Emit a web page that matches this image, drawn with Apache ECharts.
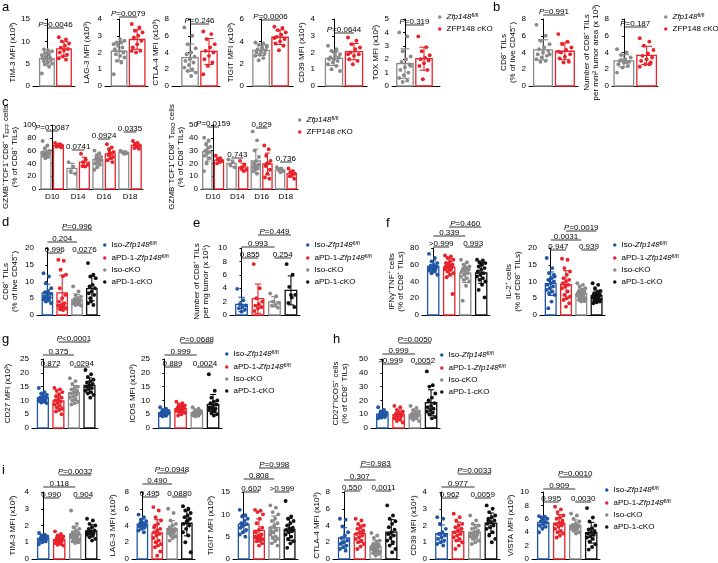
<!DOCTYPE html>
<html>
<head>
<meta charset="utf-8">
<script src="https://cdn.jsdelivr.net/npm/echarts@6/dist/echarts.min.js"></script>
<style>
  html, body { margin: 0; padding: 0; background: #fff; }
  #fig { width: 718px; height: 563px; }
</style>
</head>
<body>
<div id="fig"></div>
<script>
// 组名
const grp2 = ['Zfp148fl/fl', 'ZFP148 cKO'];
const grp4 = ['Iso-Zfp148fl/fl', 'aPD-1-Zfp148fl/fl', 'Iso-cKO', 'aPD-1-cKO'];
const days = ['D10', 'D14', 'D16', 'D18'];

// ---- a ----
const aTim3 = [
  [2.8, 4.3, 4.8, 5.0, 5.3, 5.5, 5.8, 6.0, 6.2, 6.4, 6.6, 6.9, 7.1, 7.4, 7.8, 8.0, 8.2],
  [10.9, 10.4, 10.0, 9.5, 9.0, 8.6, 8.3, 8.0, 7.5, 7.0, 6.6, 6.2, 5.9]
];
const aLag3 = [
  [0.7, 1.4, 1.5, 1.7, 1.8, 1.9, 2.0, 2.1, 2.2, 2.3, 2.4, 2.5, 2.6, 2.6, 2.7, 2.8],
  [3.7, 3.5, 3.3, 3.2, 3.0, 2.9, 2.7, 2.5, 2.3, 2.1, 2.0, 2.1]
];
const aCtla4 = [
  [7.0, 6.0, 5.0, 4.5, 4.0, 3.8, 3.5, 3.2, 3.0, 2.8, 2.5, 2.2, 2.0, 1.8, 1.6, 1.2],
  [6.5, 6.2, 5.6, 5.0, 4.6, 4.2, 4.0, 3.6, 3.2, 2.8, 2.4, 1.4]
];
const aTigit = [
  [3.9, 3.8, 3.7, 3.5, 3.4, 3.3, 3.2, 3.1, 3.0, 2.9, 2.8, 2.7, 2.5, 2.3, 3.6, 3.4],
  [5.3, 5.2, 5.0, 4.8, 4.6, 4.4, 4.2, 4.0, 3.8, 3.6, 3.2, 4.3]
];
const aCd39 = [
  [2.4, 2.2, 2.1, 1.9, 1.8, 1.7, 1.7, 1.6, 1.6, 1.5, 1.4, 1.3, 1.2, 1.0, 0.9, 2.0],
  [2.9, 2.7, 2.5, 2.3, 2.2, 2.0, 1.9, 1.8, 1.6, 1.5, 1.3, 1.9]
];
const aTox = [
  [4.0, 3.7, 2.6, 2.2, 2.0, 1.8, 1.6, 1.4, 1.2, 1.0, 0.8, 0.6, 0.4, 0.3, 1.5],
  [3.7, 2.9, 2.6, 2.3, 2.1, 2.0, 1.9, 1.7, 1.5, 1.2, 0.5]
];
const pA = ['P=0.0046', 'P=0.0079', 'P=0.246', 'P=0.0006', 'P=0.0644', 'P=0.319'];

// ---- b ----
const bCd8 = [
  [7.3, 6.0, 5.4, 5.0, 4.6, 4.4, 4.2, 4.0, 3.8, 3.6, 3.4, 3.2, 3.0, 2.9, 3.8],
  [6.2, 5.3, 5.0, 4.6, 4.3, 4.0, 3.8, 3.5, 3.3, 2.9, 2.8, 4.1]
];
const bNum = [
  [4.4, 4.0, 3.7, 3.4, 3.2, 3.0, 2.9, 2.8, 2.6, 2.4, 2.2, 1.6, 2.8, 3.1],
  [5.7, 5.3, 4.8, 4.3, 3.9, 3.6, 3.4, 3.2, 3.0, 2.8, 2.6, 2.3, 2.6]
];
const pB = ['P=0.991', 'P=0.187'];

// ---- c ---- 每组按 D10, D14, D16, D18
const cEff = [
  [[75, 68, 63, 60, 58, 56, 55, 54, 52, 50, 48, 57], [42, 35, 28, 24],
   [60, 56, 52, 50, 48, 46, 44, 42, 40, 38, 34, 30, 55, 49], [60, 58, 57, 56, 55]],
  [[72, 70, 69, 68, 67, 66, 65, 68], [55, 46, 42, 38, 35, 36],
   [70, 65, 62, 58, 55, 53, 50, 48, 45, 42, 57], [75, 72, 70, 68, 66, 64, 63]]
];
const cPro = [
  [[40, 38, 35, 33, 32, 30, 29, 28, 26, 24, 20, 14], [23, 21, 19, 17],
   [45, 38, 30, 25, 22, 20, 19, 18, 17, 16, 15, 14, 12, 18, 19], [17, 16, 15, 14, 13]],
  [[26, 24, 23, 22, 21, 20, 22], [22, 19, 17, 15, 14, 16],
   [34, 31, 26, 22, 20, 18, 15, 12, 9, 8, 20], [16, 14, 13, 12, 11, 10, 8]]
];
const pCEff = ['P=0.0087', '0.0741', '0.0924', '0.0335'];
const pCPro = ['P=0.0159', '0.743', '0.929', '0.736'];

// ---- d / e / f ----
const dCd8 = [
  [12.5, 11.5, 9.5, 8.0, 7.2, 6.8, 6.3, 6.0, 5.6, 5.2, 5.0, 4.7, 4.4, 4.0, 3.5, 4.8],
  [16.5, 16.2, 13.5, 12.0, 11.6, 8.0, 6.0, 5.0, 4.0, 3.5, 3.0, 2.8, 2.5, 2.2, 2.0, 1.5, 1.8],
  [8.5, 7.0, 6.0, 5.5, 5.0, 4.8, 4.5, 4.2, 4.0, 3.8, 3.6, 3.4, 3.2, 3.0, 2.8, 4.4],
  [15.5, 12.0, 11.5, 11.0, 9.0, 8.5, 8.0, 7.0, 6.5, 6.0, 4.0, 3.5, 3.0, 5.0]
];
const eNum = [
  [3.9, 2.2, 1.6, 1.4, 1.2, 1.0, 0.8, 0.5],
  [7.6, 4.0, 2.5, 2.0, 1.6, 1.4, 1.2, 1.0, 0.6],
  [3.2, 2.8, 2.0, 1.8, 1.5, 1.4, 1.1],
  [7.6, 6.0, 4.2, 3.0, 2.6, 1.8, 1.2, 3.0]
];
const fIfn = [
  [73, 68, 64, 62, 60, 59, 58, 57, 56, 55, 54, 53, 52, 50, 48, 58],
  [71, 70, 68, 66, 64, 62, 60, 59, 58, 57, 56, 55, 54, 52, 50, 48, 45, 25, 60, 62],
  [66, 63, 60, 58, 56, 55, 54, 53, 52, 50, 48, 46, 44, 42, 40, 35, 17, 55, 57],
  [66, 65, 63, 62, 60, 58, 56, 54, 52, 50, 48, 46, 44, 42, 40, 36, 30, 21, 60]
];
const fIl2 = [
  [17, 14, 12.5, 11.5, 11, 10.5, 10, 9.5, 9, 8.5, 8, 7.5, 7, 6.5, 6, 4, 2, 12, 11],
  [16.8, 16.5, 14, 13, 12, 11, 10.5, 10, 9.5, 9, 8.5, 8, 7, 6, 5.5, 5, 4.5, 3.5, 2.5],
  [9.5, 9.0, 8.5, 8.0, 7.5, 7.2, 7.0, 6.8, 6.5, 6.2, 6.0, 5.8, 5.5, 5.2, 5.0, 4.8, 4.5, 4.2, 4.0, 6.6],
  [9.5, 9.0, 8.0, 7.2, 6.8, 6.5, 6.2, 6.0, 5.8, 5.6, 5.4, 5.2, 5.0, 4.8, 4.6, 4.4, 4.2, 4.0, 3.8, 3.5, 6.0]
];
const pD = ['0.996', '0.0276', '0.204', 'P=0.996'];
const pE = ['0.855', '0.254', '0.993', 'P=0.449'];
const pF1 = ['>0.999', '0.993', '0.339', 'P=0.460'];
const pF2 = ['0.947', '0.939', '0.0031', 'P=0.0019'];

// ---- g / h ----
const gCd27 = [
  [14.5, 13, 12.5, 12, 11.5, 11.2, 11, 10.8, 10.5, 10.2, 10, 9.8, 9.5, 9.2, 9, 11],
  [14.5, 14, 13.5, 13, 12, 11.5, 11, 10.5, 10, 9.5, 9, 8.5, 8, 7.5, 7, 6.5, 6, 5, 10],
  [18, 17, 16, 15, 14.5, 14, 13.5, 13, 12.5, 12, 11.5, 11, 10.5, 10, 9.5, 9, 8.5, 13],
  [21, 19.5, 18.5, 17.5, 17, 16.5, 16, 15.5, 15, 14.5, 14, 13.5, 13, 12.5, 12, 11, 15]
];
const gIcos = [
  [7.5, 7, 6.5, 6.2, 6, 5.8, 5.6, 5.4, 5.2, 5, 4.8, 4.6, 4.4, 4.2, 5.5],
  [9.5, 9, 8.5, 8.2, 8, 7.6, 7.4, 7.2, 7, 6.8, 6.5, 6.2, 6, 5.8, 5.5, 5, 4.5, 7],
  [7.5, 7, 6.5, 6.2, 6, 5.8, 5.6, 5.4, 5.2, 5, 4.8, 4.6, 4.4, 4.2, 5.5, 5.3, 5.7],
  [19.5, 13.5, 11, 10, 9.5, 9, 8.5, 8, 7.5, 7, 6.8, 6.5, 6, 5.5, 5, 4.5, 7.2]
];
const hDp = [
  [15, 13, 12, 11, 10.5, 10, 9.5, 9, 8.5, 8, 7.5, 7, 10],
  [16, 15, 13, 12, 11, 10.5, 10, 9.5, 9, 8.5, 8, 7, 6, 5, 4],
  [16, 14.5, 13, 12, 11, 10.5, 10, 9.5, 9, 8.5, 8, 7.5, 7, 6, 5, 10],
  [41, 31, 30, 25, 22, 20, 18, 16, 15, 14, 13, 12, 11, 10, 8, 7]
];
const pG1 = ['0.872', '0.0294', '0.375', 'P<0.0001'];
const pG2 = ['0.889', '0.0024', '0.999', 'P=0.0688'];
const pH = ['>0.999', '0.0052', '0.999', 'P=0.0050'];

// ---- i ----
const iTim3 = [
  [1.55, 1.45, 1.4, 1.35, 1.3, 1.25, 1.2, 1.15, 1.1, 1.05, 1.0, 0.9, 1.3],
  [1.65, 1.5, 1.4, 1.35, 1.3, 1.25, 1.2, 1.15, 1.1, 1.05, 1.0, 0.95, 0.9, 0.85, 0.8, 1.2, 1.1],
  [2.9, 2.1, 1.9, 1.8, 1.7, 1.6, 1.55, 1.5, 1.45, 1.4, 1.35, 1.3, 1.25, 1.2, 1.15, 1.1, 1.05, 1.0, 0.95, 1.4],
  [2.4, 2.3, 2.1, 2.0, 1.9, 1.8, 1.7, 1.65, 1.6, 1.55, 1.5, 1.45, 1.4, 1.3, 1.2, 1.1, 1.6]
];
const iLag3 = [
  [5.3, 5.0, 4.7, 4.5, 4.3, 4.2, 4.1, 4.0, 3.9, 3.8, 3.6, 3.4, 3.2, 4.4],
  [6.2, 5.8, 5.0, 4.6, 4.2, 4.0, 3.6, 3.4, 3.2, 3.0, 2.8, 2.5, 2.2, 2.0, 1.8, 1.6, 1.4, 0.9, 0.4, 3.8],
  [6.0, 5.5, 4.6, 4.2, 4.0, 3.8, 3.6, 3.5, 3.4, 3.3, 3.2, 3.1, 3.0, 2.9, 2.7, 2.5, 2.2, 3.5],
  [6.3, 6.0, 5.8, 5.5, 5.2, 5.0, 4.8, 4.5, 4.2, 4.0, 3.6, 3.2, 2.8, 2.0, 0.8, 4.6]
];
const iTigit = [
  [11, 9.8, 9.5, 9, 8.5, 8, 7.8, 7.5, 7, 6.5, 6, 5.5, 5, 7.4],
  [11, 10.8, 10.5, 10, 9, 8, 7, 6.5, 6, 5.5, 5.2, 5, 4.8, 4.6, 4.4, 4.2, 4, 3.5, 3, 4.8],
  [12, 11.5, 10.5, 10, 9, 8.5, 8, 7.5, 7, 6.5, 6, 5.5, 5, 4.8, 4.5, 4, 3.5, 3, 7.2, 6.2],
  [13, 9.5, 9, 8.5, 8, 7.5, 7, 6.8, 6.5, 6.2, 6, 5.5, 5, 4.5, 4, 3.5, 2.5, 6.5]
];
const iCtla4 = [
  [4.8, 4.7, 3.9, 3.2, 2.8, 2.5, 2.2, 2.0, 1.8, 1.6, 1.4, 1.2, 1.0, 2.0],
  [4.8, 4.6, 4.2, 4.0, 3.8, 3.6, 3.4, 3.2, 3.0, 2.8, 2.6, 2.4, 2.2, 2.0, 1.8, 1.5, 1.2, 3.3],
  [3.1, 2.8, 2.5, 2.2, 2.0, 1.8, 1.7, 1.6, 1.5, 1.4, 1.3, 1.2, 1.1, 1.0, 0.9, 0.8, 0.7, 0.6, 0.4, 1.5],
  [6.4, 5.2, 4.8, 4.5, 4.2, 3.8, 3.5, 3.2, 3.0, 2.8, 2.5, 2.2, 2.0, 1.6, 1.2, 0.8, 3.0]
];
const iCd39 = [
  [2.5, 2.4, 2.1, 1.8, 1.6, 1.5, 1.4, 1.3, 1.2, 1.1, 1.0, 0.9, 0.8, 1.5],
  [2.7, 2.5, 2.3, 2.1, 2.0, 1.9, 1.8, 1.7, 1.6, 1.5, 1.4, 1.3, 1.2, 1.1, 1.0, 0.8, 0.6, 1.8],
  [2.6, 2.3, 2.1, 2.0, 1.9, 1.8, 1.7, 1.6, 1.5, 1.45, 1.4, 1.35, 1.3, 1.2, 1.1, 1.0, 0.9, 1.6],
  [3.2, 3.0, 2.8, 2.6, 2.5, 2.4, 2.3, 2.2, 2.1, 2.0, 1.9, 1.8, 1.6, 1.4, 1.2, 1.0, 2.3]
];
const iVista = [
  [6.4, 6.3, 6.2, 6.0, 5.8, 5.6, 5.4, 5.2, 5.0, 4.8, 4.5, 4.0, 5.5],
  [7.8, 7.4, 7.0, 6.5, 6.2, 6.0, 5.7, 5.4, 5.2, 5.0, 4.8, 4.5, 4.2, 4.0, 3.8, 3.5, 3.2, 5.3],
  [6.8, 6.5, 6.0, 5.6, 5.3, 5.1, 5.0, 4.9, 4.8, 4.7, 4.6, 4.5, 4.4, 4.2, 4.0, 3.8, 5.0],
  [7.6, 6.2, 5.6, 5.0, 4.6, 4.4, 4.2, 4.0, 3.8, 3.6, 3.4, 3.2, 3.0, 2.6, 2.2, 1.8, 1.4, 4.0]
];
const pI1 = ['0.990', '0.904', '0.118', 'P=0.0032'];
const pI2 = ['0.495', '0.0880', '0.490', 'P=0.0948'];
const pI3 = ['0.602', '>0.999', '0.808', 'P=0.998'];
const pI4 = ['0.550', '0.0011', '0.307', 'P=0.983'];
const pI5 = ['0.962', '0.0059', '0.977', 'P=0.0033'];
const pI6 = ['0.995', '0.0030', '0.909', 'P=0.0010'];

// 样式
const FONT = '"Liberation Sans", Arial, sans-serif';
const FS = 8;
const GREY = '#8a8a8a';
const RED = '#e8232b';
const BLUE = '#2156a5';
const BLACK = '#111111';
const PAIRS4 = [[0, 1], [2, 3], [0, 2], [1, 3]];

// 每个小图的位置 / 轴 / 标注偏移 (off: 括号线相对于图顶的像素)
const charts = [
  { kind: 2, vals: aTim3, p: [pA[0]], name: 'TIM-3 MFI (x10³)', yMax: 15, yStep: 5, left: 33, top: 19, width: 42, height: 67, x0: -0.82, x1: 1.65, gap: 15, off: [9] },
  { kind: 2, vals: aLag3, p: [pA[1]], name: 'LAG-3 MFI (x10³)', yMax: 4, yStep: 1, left: 105, top: 19, width: 43, height: 67, x0: -0.78, x1: 1.6, gap: 14, off: [-2] },
  { kind: 2, vals: aCtla4, p: [pA[2]], name: 'CTLA-4 MFI (x10³)', yMax: 8, yStep: 2, left: 172, top: 19, width: 48, height: 67, x0: -0.95, x1: 1.58, gap: 9, off: [5] },
  { kind: 2, vals: aTigit, p: [pA[3]], name: 'TIGIT MFI (x10³)', yMax: 6, yStep: 2, left: 247, top: 19, width: 46, height: 67, x0: -0.74, x1: 1.68, gap: 10, off: [1] },
  { kind: 2, vals: aCd39, p: [pA[4]], name: 'CD39 MFI (x10⁴)', yMax: 4, yStep: 1, left: 318, top: 19, width: 49, height: 67, x0: -0.8, x1: 1.65, gap: 10, off: [14] },
  { kind: 2, vals: aTox, p: [pA[5]], name: 'TOX MFI (x10²)', yMax: 5, yStep: 1, left: 392, top: 19, width: 48, height: 67, x0: -0.68, x1: 1.84, gap: 9, off: [6] },
  { kind: 2, vals: bCd8, p: [pB[0]], name: 'CD8⁺ TILs\n(% of live CD45⁺)', yMax: 8, yStep: 2, left: 529, top: 19, width: 49, height: 67, x0: -0.64, x1: 1.6, gap: 11, off: [-4] },
  { kind: 2, vals: bNum, p: [pB[1]], name: 'Number of CD8⁺ TILs\nper mm² tumor area (x 10³)', yMax: 8, yStep: 2, left: 612, top: 19, width: 46, height: 67, x0: -0.52, x1: 1.5, gap: 10, off: [8] },

  { kind: 'c', vals: cEff, p: pCEff, name: 'GZMB⁺TCF1⁻CD8⁺ T{sub|EFF} cells\n(% of CD8⁺ TILs)', yMax: 100, yStep: 20, left: 39, top: 125, width: 104, height: 64, gap: 19, off: [6, 25, 14, 7] },
  { kind: 'c', vals: cPro, p: pCPro, name: 'GZMB⁻TCF1⁺CD8⁺ T{sub|PRO} cells\n(% of CD8⁺ TILs)', yMax: 50, yStep: 10, left: 201, top: 125, width: 97, height: 64, gap: 16, off: [2, 33, 3, 37] },

  { kind: 4, vals: dCd8, p: pD, name: 'CD8⁺ TILs\n(% of live CD45⁺)', yMax: 20, yStep: 5, left: 35, top: 248, width: 65, height: 67, gap: 18, off: [5, 5, -6, -18] },
  { kind: 4, vals: eNum, p: pE, name: 'Number of CD8⁺ TILs\nper mg tumor (x 10⁵)', yMax: 10, yStep: 2, left: 230, top: 248, width: 70, height: 67, gap: 20, off: [10, 10, -1, -13] },
  { kind: 4, vals: fIfn, p: pF1, name: 'IFNγ⁺TNF⁺ cells\n(% of CD8⁺ TILs)', yMax: 80, yStep: 20, left: 422, top: 248, width: 68, height: 67, gap: 17, off: [-1, -1, -12, -21] },
  { kind: 4, vals: fIl2, p: pF2, name: 'IL-2⁺ cells\n(% of CD8⁺ TILs)', yMax: 20, yStep: 5, left: 540, top: 248, width: 65, height: 67, gap: 18, off: [2, 2, -8, -17] },

  { kind: 4, vals: gCd27, p: pG1, name: 'CD27 MFI (x10³)', yMax: 25, yStep: 5, left: 32, top: 359, width: 66, height: 69, gap: 20, off: [8, 8, -4, -17] },
  { kind: 4, vals: gIcos, p: pG2, name: 'ICOS MFI (x10³)', yMax: 25, yStep: 5, left: 153, top: 359, width: 69, height: 69, gap: 16, off: [8, 8, -4, -16] },
  { kind: 4, vals: hDp, p: pH, name: 'CD27⁺ICOS⁺ cells\n(% of CD8⁺ TILs)', yMax: 50, yStep: 10, left: 371, top: 359, width: 69, height: 69, gap: 22, off: [5, 5, -5, -16] },

  { kind: 4, vals: iTim3, p: pI1, name: 'TIM-3 MFI (x10³)', yMax: 4, yStep: 1, left: 32, top: 492, width: 68, height: 67, gap: 15, off: [6, 6, -5, -17] },
  { kind: 4, vals: iLag3, p: pI2, name: 'LAG-3 MFI (x10³)', yMax: 8, yStep: 2, left: 132, top: 492, width: 63, height: 67, gap: 15, off: [5, 5, -8, -19] },
  { kind: 4, vals: iTigit, p: pI3, name: 'TIGIT MFI (x10³)', yMax: 15, yStep: 5, left: 233, top: 492, width: 65, height: 67, gap: 18, off: [0, 0, -13, -24] },
  { kind: 4, vals: iCtla4, p: pI4, name: 'CTLA-4 MFI (x10³)', yMax: 8, yStep: 2, left: 333, top: 492, width: 67, height: 67, gap: 8, off: [-1, -1, -12, -25] },
  { kind: 4, vals: iCd39, p: pI5, name: 'CD39 MFI (x10⁴)', yMax: 4, yStep: 1, left: 430, top: 492, width: 70, height: 67, gap: 12, off: [6, 6, -5, -18] },
  { kind: 4, vals: iVista, p: pI6, name: 'VISTA MFI (x10³)', yMax: 10, yStep: 2, left: 532, top: 492, width: 68, height: 67, gap: 17, off: [10, 10, -3, -15] }
];

const legends = [
  { names: grp2, left: 438, top: 12 },
  { names: grp2, left: 664, top: 12 },
  { names: grp2, left: 298, top: 115 },
  { names: grp4, left: 103, top: 240 },
  { names: grp4, left: 306, top: 240 },
  { names: grp4, left: 613, top: 240 },
  { names: grp4, left: 225, top: 349 },
  { names: grp4, left: 440, top: 350 },
  { names: grp4, left: 605, top: 485 }
];

const letters = [['a', 2, 1], ['b', 493, 1], ['c', 2, 96], ['d', 2, 216], ['e', 193, 217],
  ['f', 386, 217], ['g', 2, 333], ['h', 333, 333], ['i', 2, 464]];

function mean (a) {
  return a.reduce(function (s, v) { return s + v; }, 0) / a.length;
}
function sd (a) {
  const m = mean(a);
  return Math.sqrt(a.reduce(function (s, v) { return s + (v - m) * (v - m); }, 0) / (a.length - 1));
}
// 点的横向抖动 (-1 ~ 1)
function jit (k) {
  return (((k * 7) % 11) - 5) / 5;
}
function richName (n) {
  return n.replace('Zfp148fl/fl', '{it|Zfp148}{sup|fl/fl}').replace(' cKO', ' {it|c}KO');
}
function richP (t) {
  return t.charAt(0) === 'P' ? '{it|P}' + t.slice(1) : t;
}

const richText = {
  it: { fontStyle: 'italic', fontSize: FS, fontFamily: FONT },
  sup: { fontSize: 5.5, fontFamily: FONT, verticalAlign: 'top', padding: [0, 0, 4, 0] },
  sub: { fontSize: 5.5, fontFamily: FONT, padding: [4, 0, 0, 0] }
};

const option = {
  animation: false,
  textStyle: { fontFamily: FONT },
  grid: [], xAxis: [], yAxis: [], series: [], legend: [], graphic: []
};

charts.forEach(function (c, gi) {
  option.grid.push({ left: c.left, top: c.top, width: c.width, height: c.height });

  const isC = c.kind === 'c';
  const xMin = c.x0 !== undefined ? c.x0 : (isC ? -0.5 : -0.7);
  const xMax = c.x1 !== undefined ? c.x1 : (isC ? 3.5 : 3.55);
  const xi = option.xAxis.length;
  option.xAxis.push({
    type: 'value', gridIndex: gi, min: xMin, max: xMax, position: 'bottom',
    axisLine: { show: !isC, lineStyle: { color: '#000', width: 1 } },
    axisTick: { show: false }, axisLabel: { show: false }, splitLine: { show: false }
  });
  if (isC) {
    option.xAxis.push({
      type: 'category', gridIndex: gi, data: days, position: 'bottom',
      axisLine: { lineStyle: { color: '#000', width: 1 } },
      axisTick: { alignWithLabel: true, length: 2, lineStyle: { color: '#000' } },
      axisLabel: { fontSize: FS, color: '#000', margin: 4, fontFamily: FONT }
    });
  }
  option.yAxis.push({
    type: 'value', gridIndex: gi, min: 0, max: c.yMax, interval: c.yStep,
    name: c.name, nameLocation: 'middle', nameGap: c.gap,
    nameTextStyle: { fontSize: FS, color: '#000', lineHeight: 9, fontFamily: FONT, rich: richText },
    axisLine: { show: true, lineStyle: { color: '#000', width: 1 } },
    axisTick: { show: true, length: 2, lineStyle: { color: '#000' } },
    axisLabel: { fontSize: FS, color: '#000', margin: 3, fontFamily: FONT },
    splitLine: { show: false }
  });

  // 每组: x 位置, 数值, 颜色, 名称
  let sets = [];
  let half, spread;
  if (c.kind === 2) {
    sets = [0, 1].map(function (k) { return { x: k, v: c.vals[k], color: [GREY, RED][k], name: grp2[k] }; });
    half = 0.43; spread = 0.3;
  } else if (c.kind === 4) {
    sets = [0, 1, 2, 3].map(function (k) { return { x: k, v: c.vals[k], color: [BLUE, RED, GREY, BLACK][k], name: grp4[k] }; });
    half = 0.35; spread = 0.26;
  } else {
    days.forEach(function (d, di) {
      sets.push({ x: di - 0.24, v: c.vals[0][di], color: GREY, name: grp2[0] });
      sets.push({ x: di + 0.24, v: c.vals[1][di], color: RED, name: grp2[1] });
    });
    half = 0.19; spread = 0.13;
  }
  const colors = sets.map(function (s) { return s.color; });
  const stats = sets.map(function (s, k) { return [s.x, mean(s.v), sd(s.v), k]; });

  // 空心柱
  option.series.push({
    type: 'custom', xAxisIndex: xi, yAxisIndex: gi, z: 1, silent: true,
    data: stats,
    renderItem: function (params, api) {
      const x = api.value(0);
      const w = api.size([1, 0])[0] * half;
      const b = api.coord([x, 0]);
      const t = api.coord([x, api.value(1)]);
      return {
        type: 'rect',
        shape: { x: b[0] - w, y: t[1], width: w * 2, height: b[1] - t[1] },
        style: { fill: '#fff', stroke: colors[api.value(3)], lineWidth: 1.3 }
      };
    }
  });

  // 散点
  sets.forEach(function (s) {
    option.series.push({
      type: 'scatter', name: s.name, xAxisIndex: xi, yAxisIndex: gi, z: 3,
      symbolSize: 3.9, itemStyle: { color: s.color, opacity: 1 },
      data: s.v.map(function (v, k) { return [s.x + jit(k) * spread, v]; })
    });
  });

  // 误差线 (mean ± SD)
  option.series.push({
    type: 'custom', xAxisIndex: xi, yAxisIndex: gi, z: 4, silent: true,
    data: stats,
    renderItem: function (params, api) {
      const x = api.value(0), m = api.value(1), s = api.value(2);
      const cap = api.size([1, 0])[0] * half * 0.55;
      const hi = api.coord([x, m + s]);
      const lo = api.coord([x, Math.max(m - s, 0)]);
      const st = { stroke: colors[api.value(3)], lineWidth: 1.1 };
      return {
        type: 'group',
        children: [
          { type: 'line', shape: { x1: hi[0], y1: hi[1], x2: lo[0], y2: lo[1] }, style: st },
          { type: 'line', shape: { x1: hi[0] - cap, y1: hi[1], x2: hi[0] + cap, y2: hi[1] }, style: st },
          { type: 'line', shape: { x1: lo[0] - cap, y1: lo[1], x2: lo[0] + cap, y2: lo[1] }, style: st }
        ]
      };
    }
  });

  // 显著性括号
  let pairs;
  if (c.kind === 2) pairs = [[0, 1]];
  else if (c.kind === 4) pairs = PAIRS4;
  else pairs = days.map(function (d, di) { return [di - 0.24, di + 0.24]; });
  option.series.push({
    type: 'custom', xAxisIndex: xi, yAxisIndex: gi, z: 5, silent: true,
    data: pairs.map(function (p, k) { return [p[0], p[1], k]; }),
    renderItem: function (params, api) {
      const k = api.value(2);
      const a = api.coord([api.value(0), 0])[0];
      const b = api.coord([api.value(1), 0])[0];
      const y = params.coordSys.y + c.off[k];
      return {
        type: 'group',
        children: [
          { type: 'line', shape: { x1: a, y1: y, x2: b, y2: y }, style: { stroke: '#000', lineWidth: 0.8 } },
          {
            type: 'text',
            style: {
              x: (a + b) / 2, y: y + 1, text: richP(c.p[k]), align: 'center', verticalAlign: 'bottom',
              fontSize: FS, fontFamily: FONT, fill: '#000',
              rich: { it: { fontStyle: 'italic', fontSize: FS, fontFamily: FONT, fill: '#000' } }
            }
          }
        ]
      };
    }
  });
});

legends.forEach(function (l) {
  option.legend.push({
    left: l.left, top: l.top, orient: 'vertical', data: l.names, selectedMode: false,
    icon: 'circle', itemWidth: 3.5, itemHeight: 3.5, itemGap: 4, padding: 0,
    formatter: richName,
    textStyle: { fontSize: FS, color: '#000', fontFamily: FONT, rich: richText }
  });
});

letters.forEach(function (t) {
  option.graphic.push({
    type: 'text', left: t[1], top: t[2],
    style: { text: t[0], fontSize: 13, fontFamily: FONT, fill: '#000' }
  });
});

const myChart = echarts.init(document.getElementById('fig'));
myChart.setOption(option);
window.addEventListener('resize', function () {
  myChart.resize();
});
</script>
</body>
</html>
